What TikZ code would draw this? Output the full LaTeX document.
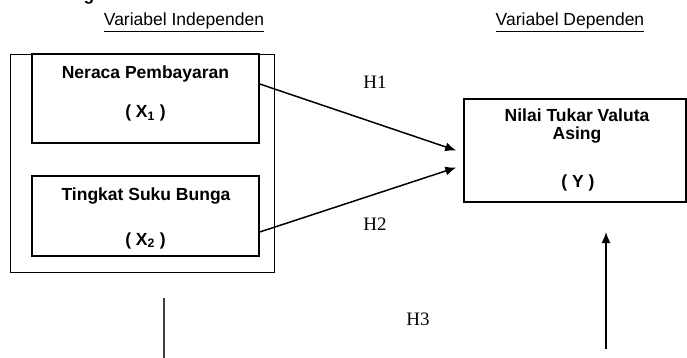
\documentclass[tikz,border=0pt]{standalone}
\usepackage{fontspec}
\setmainfont{Liberation Sans}
\newfontfamily\timesfont{Liberation Serif}
\usetikzlibrary{arrows.meta}
\tikzset{
  box/.style={draw, line width=1.5pt, rectangle, inner sep=0pt},
  btext/.style={font=\fontsize{17.5}{21}\selectfont\bfseries, anchor=base, inner sep=0pt},
  htext/.style={font=\fontsize{17.5}{21}\selectfont, anchor=base, inner sep=0pt},
  hyp/.style={font=\timesfont\fontsize{19}{22}\selectfont, anchor=base, inner sep=0pt},
  conn/.style={line width=1.5pt, -{Latex[length=11pt,width=9pt]}},
}
\begin{document}
\begin{tikzpicture}[x=1pt,y=-1pt]
\clip (0,0) rectangle (687,358);
\useasboundingbox (0,0) rectangle (687,358);
% cut-off heading fragment
\node[btext] (frag) at (89,0.5) {g};
% headings
\node[htext] (indep) at (184,26) {\underline{Variabel Independen}};
\node[htext] (dep) at (570,26) {\underline{Variabel Dependen}};
% boxes
\node[box, minimum width=264pt, minimum height=218pt] (outer) at (142.5,163.5) {};
\node[box, minimum width=227pt, minimum height=89pt] (box1) at (145.5,98.5) {};
\node[box, minimum width=227pt, minimum height=80pt] (box2) at (145.5,216) {};
\node[box, minimum width=222pt, minimum height=103pt] (ybox) at (575,150.5) {};
% box texts
\node[btext] (t1) at (145.5,79) {Neraca Pembayaran};
\node[btext] (t1b) at (145.5,117.5) {( X\textsubscript{1} )};
\node[btext] (t2) at (146,200) {Tingkat Suku Bunga};
\node[btext] (t2b) at (145.5,245) {( X\textsubscript{2} )};
\node[btext] (ty1) at (577,121.5) {Nilai Tukar Valuta};
\node[btext] (ty2) at (577,140) {Asing};
\node[btext] (ty3) at (578,187) {( Y )};
% hypothesis labels
\node[hyp] (h1) at (375,89) {H1};
\node[hyp] (h2) at (375,230) {H2};
\node[hyp] (h3) at (418,325) {H3};
% connectors
\draw[conn] ([yshift=14.5pt]box1.east) -- ([xshift=-7pt]ybox.west);
\draw[conn] ([yshift=-16pt]box2.east) -- ([xshift=-7pt,yshift=-17pt]ybox.west);
\coordinate (vtop) at (164,298);
\coordinate (vbot) at (164,360);
\draw[line width=1.2pt, black!75] (vtop) -- (vbot);
\coordinate (ubot) at (606,349);
\coordinate (utop) at (606,232);
\draw[conn] (ubot) -- (utop);
\end{tikzpicture}
\end{document}
